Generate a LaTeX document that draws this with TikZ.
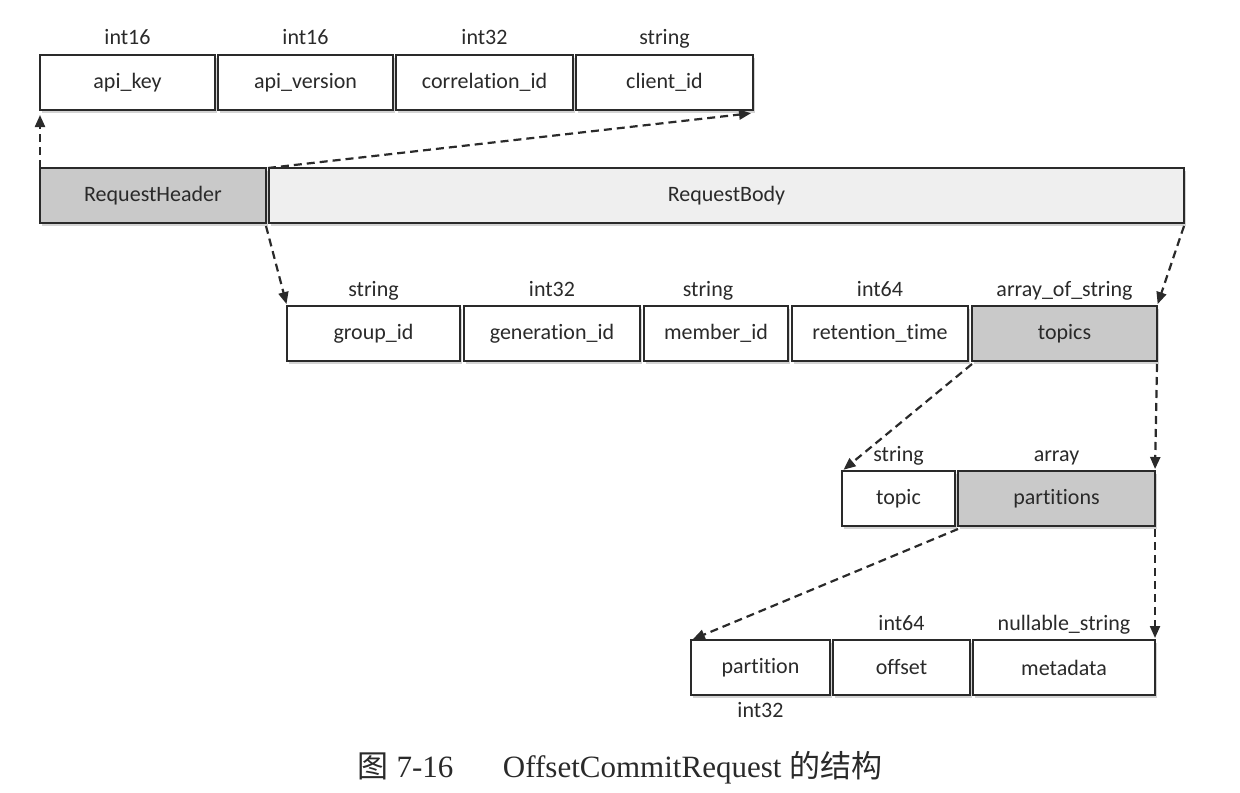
\documentclass[tikz,border=0pt]{standalone}
\usepackage{fontspec}
\setmainfont{Carlito}[Ligatures=NoCommon]
\newfontfamily\capfont{Liberation Serif}
\newfontfamily\cjkfont{Noto Sans CJK SC}
\usetikzlibrary{shadows,arrows.meta,calc}
\definecolor{ink}{HTML}{2A2A2A}
\definecolor{darkfill}{HTML}{C9C9C9}
\definecolor{lightfill}{HTML}{EFEFEF}
\tikzset{
  field/.style={draw=ink, line width=0.9pt, fill=white, inner sep=0pt, outer sep=0pt,
    anchor=north west, minimum height=27.5pt, font=\fontsize{11}{13}\selectfont, text=ink,
    drop shadow={shadow xshift=1.2pt, shadow yshift=-1.6pt, opacity=0.35, fill=gray}},
  grayfield/.style={field, fill=darkfill},
  lightfield/.style={field, fill=lightfill},
  typelbl/.style={inner sep=0pt, anchor=base, font=\fontsize{11}{13}\selectfont, text=ink},
  link/.style={draw=ink, line width=1.1pt, dash pattern=on 4pt off 2.5pt,
    -{Triangle[length=6pt,width=5pt]}, shorten >=1pt}
}
\begin{document}
\begin{tikzpicture}[x=0.5pt,y=-0.5pt]
\useasboundingbox (0,0) rectangle (1240,792);
% top row
\node[field, minimum width=87.5pt] (apikey) at (40,55) {api\_key};
\node[field, minimum width=87.5pt] (apiversion) at (218,55) {api\_version};
\node[field, minimum width=88.5pt] (corrid) at (396,55) {correlation\_id};
\node[field, minimum width=88.5pt] (clientid) at (576,55) {client\_id};
\node[typelbl] (t1) at ([yshift=5pt]apikey.north) {int16};
\node[typelbl] (t2) at ([yshift=5pt]apiversion.north) {int16};
\node[typelbl] (t3) at ([yshift=5pt]corrid.north) {int32};
\node[typelbl] (t4) at ([yshift=5pt]clientid.north) {string};
% header/body
\node[grayfield, minimum width=113pt] (hdr) at (40,168) {RequestHeader};
\node[lightfield, minimum width=457.5pt] (body) at (269,168) {RequestBody};
% third row
\node[field, minimum width=86.5pt] (groupid) at (287,306) {group\_id};
\node[field, minimum width=88pt] (genid) at (464,306) {generation\_id};
\node[field, minimum width=72pt] (memberid) at (644,306) {member\_id};
\node[field, minimum width=88pt] (rettime) at (792,306) {retention\_time};
\node[grayfield, minimum width=92.5pt] (topics) at (972,306) {topics};
\node[typelbl] (t5) at ([yshift=5pt]groupid.north) {string};
\node[typelbl] (t6) at ([yshift=5pt]genid.north) {int32};
\node[typelbl] (t7) at ([yshift=5pt,xshift=-4pt]memberid.north) {string};
\node[typelbl] (t8) at ([yshift=5pt]rettime.north) {int64};
\node[typelbl] (t9) at ([yshift=5pt]topics.north) {array\_of\_string};
% fourth row
\node[field, minimum width=56.5pt] (topic) at (842,471) {topic};
\node[grayfield, minimum width=98.5pt] (partitions) at (958,471) {partitions};
\node[typelbl] (t10) at ([yshift=5pt]topic.north) {string};
\node[typelbl] (t11) at ([yshift=5pt]partitions.north) {array};
% fifth row
\node[field, minimum width=69.5pt] (partition) at (691,640) {partition};
\node[field, minimum width=68.5pt] (offset) at (833,640) {offset};
\node[field, minimum width=91pt] (metadata) at (973,640) {metadata};
\node[typelbl] (t12) at ([yshift=-11pt]partition.south) {int32};
\node[typelbl] (t13) at ([yshift=5pt]offset.north) {int64};
\node[typelbl] (t14) at ([yshift=5pt]metadata.north) {nullable\_string};
% connectors
\draw[link] (hdr.north west) -- ([yshift=-1.5pt]apikey.south west);
\draw[link] ([xshift=1pt]hdr.north east) -- ([yshift=-1.5pt]clientid.south east);
\draw[link] ([yshift=-1.5pt]hdr.south east) -- (groupid.north west);
\draw[link] ([yshift=-1.5pt]body.south east) -- (topics.north east);
\draw[link] ([yshift=-1.5pt]topics.south west) -- (topic.north west);
\draw[link] ([yshift=-1.5pt]topics.south east) -- (partitions.north east);
\draw[link] ([yshift=-1.5pt]partitions.south west) -- (partition.north west);
\draw[link] ([yshift=-1.5pt]partitions.south east) -- (metadata.north east);
% caption
\node[inner sep=0pt, anchor=base, text=ink, font=\fontsize{15.5}{17}\selectfont] (caption) at (620,777)
  {\cjkfont 图\capfont\ 7-16\hspace{1.6em}OffsetCommitRequest \cjkfont 的结构};
\end{tikzpicture}
\end{document}
